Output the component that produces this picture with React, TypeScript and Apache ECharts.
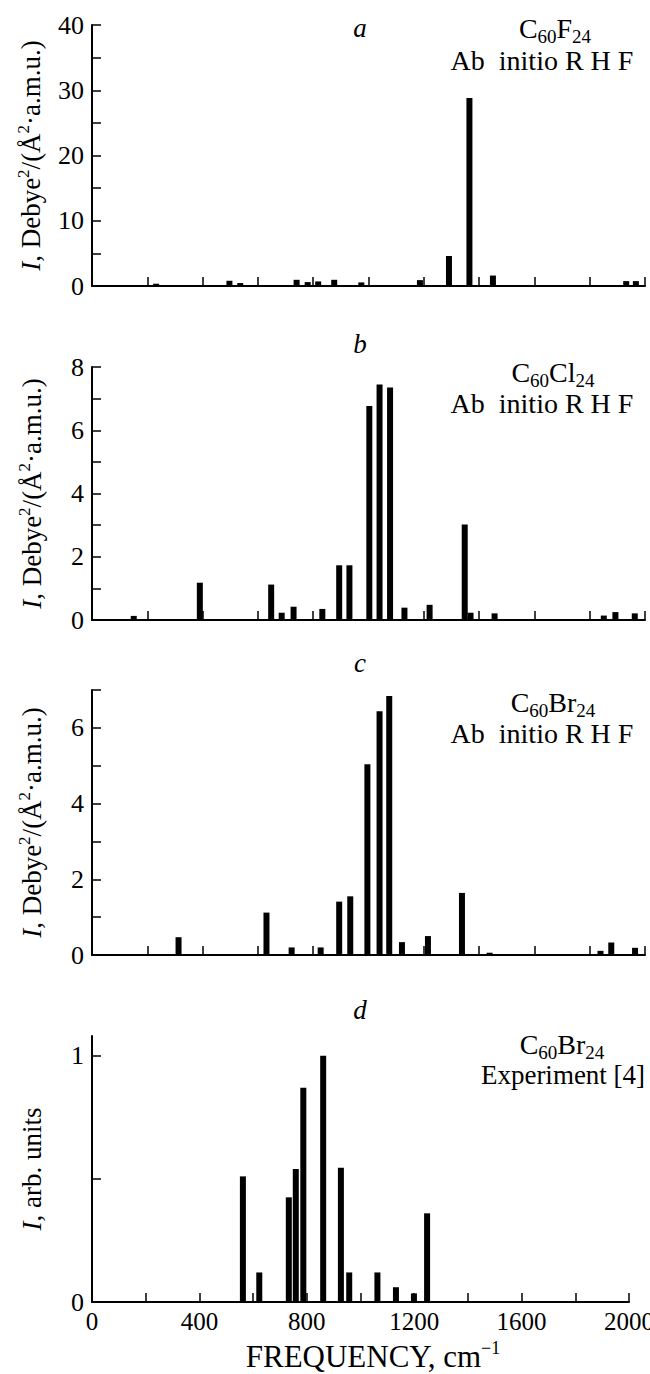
import React, { useEffect, useRef } from "react";
import * as echarts from "echarts";

const FONT = "Liberation Serif";

// Panel a: C60F24 ab initio RHF
const freqA = [232, 497, 536, 740, 780, 818, 876, 974, 1186, 1291, 1365, 1450, 1932, 1967];
const intA = [0.35, 0.8, 0.45, 0.95, 0.6, 0.7, 0.95, 0.55, 0.9, 4.6, 28.8, 1.6, 0.75, 0.75];

// Panel b: C60Cl24 ab initio RHF
const freqB = [151, 390, 648, 686, 729, 833, 894, 931, 1003, 1040, 1078, 1130, 1221, 1348, 1369, 1456, 1851, 1893, 1963];
const intB = [0.13, 1.18, 1.12, 0.23, 0.42, 0.35, 1.73, 1.73, 6.77, 7.45, 7.35, 0.39, 0.48, 3.02, 0.23, 0.21, 0.14, 0.25, 0.21];

// Panel c: C60Br24 ab initio RHF
const freqC = [313, 631, 722, 827, 894, 934, 996, 1040, 1075, 1121, 1215, 1338, 1438, 1839, 1878, 1964];
const intC = [0.47, 1.12, 0.2, 0.2, 1.41, 1.55, 5.04, 6.44, 6.84, 0.34, 0.5, 1.64, 0.06, 0.11, 0.33, 0.19];

// Panel d: C60Br24 experiment [4]
const freqD = [562, 623, 733, 759, 787, 861, 927, 958, 1063, 1132, 1199, 1248];
const intD = [0.51, 0.12, 0.425, 0.54, 0.87, 1.0, 0.545, 0.12, 0.12, 0.06, 0.035, 0.36];

const xTickLabels = [0, 400, 800, 1200, 1600, 2000];
const yMaxes = [40, 8, 7, 1.08];
const yIntervals = [5, 1, 1, 0.5];
const yLabelValues = [
  [0, 10, 20, 30, 40],
  [0, 2, 4, 6, 8],
  [0, 2, 4, 6],
  [0, 1],
];
const yTickValues = [
  [0, 5, 10, 15, 20, 25, 30, 35, 40],
  [0, 1, 2, 3, 4, 5, 6, 7, 8],
  [0, 1, 2, 3, 4, 5, 6, 7],
  [0, 0.5, 1],
];
const panelLetters = ["a", "b", "c", "d"];
// formula pieces: [text, isSubscript]
const compounds: [string, boolean][][] = [
  [["C", false], ["60", true], ["F", false], ["24", true]],
  [["C", false], ["60", true], ["Cl", false], ["24", true]],
  [["C", false], ["60", true], ["Br", false], ["24", true]],
  [["C", false], ["60", true], ["Br", false], ["24", true]],
];
const methods = ["Ab  initio R H F", "Ab  initio R H F", "Ab  initio R H F", "Experiment [4]"];
const yNames = [
  "{i|I}, Debye{sup|2}/(Å{sup|2}·a.m.u.)",
  "{i|I}, Debye{sup|2}/(Å{sup|2}·a.m.u.)",
  "{i|I}, Debye{sup|2}/(Å{sup|2}·a.m.u.)",
  "{i|I}, arb. units",
];

const seriesData = [
  [freqA, intA],
  [freqB, intB],
  [freqC, intC],
  [freqD, intD],
];

const GRIDS = [
  { top: 25, height: 261, width: 553 },
  { top: 367, height: 253, width: 553 },
  { top: 690, height: 265, width: 553 },
  { top: 1036, height: 266, width: 537 },
];
const LEFT = 92;

const letterPos = [
  [360, 28],
  [360, 344],
  [360, 663],
  [360, 1010],
];
// [compound x, compound y, method x, method y]
const annPos = [
  [555, 28, 542, 60],
  [553, 372, 542, 403],
  [553, 702, 542, 733],
  [562, 1044, 563, 1075],
];

const MAIN_SIZE = 28;
const SUB_SIZE = 19;

function measure(text: string, size: number): number {
  const c = document.createElement("canvas");
  const ctx = c.getContext("2d");
  if (!ctx) return text.length * size * 0.5;
  ctx.font = `${size}px ${FONT}`;
  return ctx.measureText(text).width;
}

export default function App() {
  const ref = useRef<HTMLDivElement>(null);
  useEffect(() => {
    if (!ref.current) return;
    const chart = echarts.init(ref.current, undefined, { renderer: "svg" });

    const grid = GRIDS.map((g) => ({
      left: LEFT,
      width: g.width,
      top: g.top,
      height: g.height,
      containLabel: false,
      outerBoundsMode: "none",
    }));

    const xAxis = GRIDS.map((_, i) => ({
      type: "value",
      gridIndex: i,
      min: 0,
      max: 2000,
      interval: 200,
      splitLine: { show: false },
      axisLine: { show: true, onZero: false, lineStyle: { color: "#000", width: 2 } },
      axisTick: { show: true, inside: true, length: 9, lineStyle: { color: "#000", width: 1.5 } },
      axisLabel: {
        show: i === 3,
        customValues: xTickLabels,
        formatter: (v: number) => String(v),
        margin: 7,
        color: "#000",
        fontFamily: FONT,
        fontSize: 25,
      },
    }));

    const richName = {
      i: { fontStyle: "italic", fontFamily: FONT, fontSize: 27, lineHeight: 32, color: "#000" },
      sup: { fontFamily: FONT, fontSize: 17, lineHeight: 16, verticalAlign: "top", color: "#000" },
    };

    const yAxis = GRIDS.map((_, i) => ({
      type: "value",
      gridIndex: i,
      min: 0,
      max: yMaxes[i],
      interval: yIntervals[i],
      splitLine: { show: false },
      axisLine: { show: true, onZero: false, lineStyle: { color: "#000", width: 2 } },
      axisTick: {
        show: true,
        inside: true,
        length: 9,
        customValues: yTickValues[i],
        lineStyle: { color: "#000", width: 1.5 },
      },
      axisLabel: {
        customValues: yLabelValues[i],
        formatter: (v: number) => String(v),
        margin: 8,
        color: "#000",
        fontFamily: FONT,
        fontSize: 26,
      },
      name: yNames[i],
      nameLocation: "middle",
      nameRotate: 90,
      nameGap: 44,
      nameTextStyle: {
        fontFamily: FONT,
        fontSize: 27,
        lineHeight: 32,
        color: "#000",
        rich: richName,
      },
    }));

    const series = seriesData.map(([f, v], i) => ({
      type: "bar",
      xAxisIndex: i,
      yAxisIndex: i,
      barWidth: 6,
      silent: true,
      itemStyle: { color: "#000" },
      data: f.map((x, j) => [x, v[j]]),
    }));

    const graphic: any[] = [];
    panelLetters.forEach((l, i) => {
      graphic.push({
        type: "text",
        x: letterPos[i][0],
        y: letterPos[i][1],
        style: {
          text: l,
          fontFamily: FONT,
          fontStyle: "italic",
          fontSize: 27,
          fill: "#000",
          align: "center",
          verticalAlign: "middle",
        },
      });

      // chemical formula with lowered subscripts
      const parts = compounds[i];
      const widths = parts.map(([t, sub]) => measure(t, sub ? SUB_SIZE : MAIN_SIZE));
      const total = widths.reduce((a, b) => a + b, 0);
      let cx = annPos[i][0] - total / 2;
      parts.forEach(([t, sub], k) => {
        graphic.push({
          type: "text",
          x: cx,
          y: sub ? annPos[i][1] + 8 : annPos[i][1],
          style: {
            text: t,
            fontFamily: FONT,
            fontSize: sub ? SUB_SIZE : MAIN_SIZE,
            fill: "#000",
            align: "left",
            verticalAlign: "middle",
          },
        });
        cx += widths[k];
      });

      graphic.push({
        type: "text",
        x: annPos[i][2],
        y: annPos[i][3],
        style: {
          text: methods[i],
          fontFamily: FONT,
          fontSize: i === 3 ? 27 : 28,
          fill: "#000",
          align: "center",
          verticalAlign: "middle",
        },
      });
    });
    graphic.push({
      type: "text",
      x: 373,
      y: 1356,
      style: {
        text: "{n|FREQUENCY, cm}{u|−1}",
        rich: {
          n: { fontFamily: FONT, fontSize: 31, lineHeight: 34, fill: "#000" },
          u: { fontFamily: FONT, fontSize: 18, lineHeight: 16, verticalAlign: "top", fill: "#000" },
        },
        align: "center",
        verticalAlign: "middle",
      },
    });

    chart.setOption({
      animation: false,
      backgroundColor: "#fff",
      grid,
      xAxis,
      yAxis,
      series,
      graphic,
    });
    return () => chart.dispose();
  }, []);
  return (
    <div
      ref={ref}
      style={{ position: "absolute", left: 0, top: 0, width: 650, height: 1374 }}
    />
  );
}
